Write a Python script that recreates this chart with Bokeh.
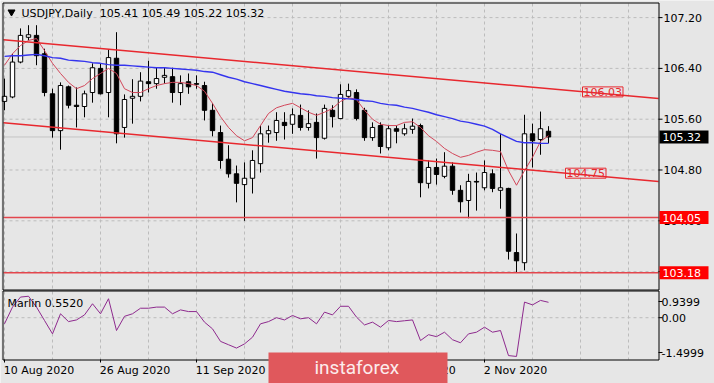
from bokeh.plotting import figure
from bokeh.models import Label, Range1d
from bokeh.embed import file_html
from bokeh.resources import INLINE
from bokeh.core.properties import value

# ---------------- data ----------------
symbol_title = "USDJPY,Daily"
tick_bars = [0, 12, 24, 36, 48, 60]
tick_dates = ["10 Aug 2020", "26 Aug 2020", "11 Sep 2020", "29 Sep 2020", "15 Oct 2020", "2 Nov 2020"]

opens = [105.88, 105.95, 106.50, 106.89, 106.92, 106.63, 106.00, 105.42, 106.11, 105.82,
         105.80, 106.02, 106.40, 106.02, 106.56, 105.47, 105.93, 105.96, 106.19, 106.16,
         106.26, 106.27, 106.02, 106.19, 106.16, 106.13, 105.74, 105.39, 104.97, 104.74,
         104.57, 104.67, 104.90, 105.37, 105.39, 105.55, 105.52, 105.66, 105.47, 105.55,
         105.30, 105.74, 105.61, 105.96, 106.02, 105.74, 105.31, 105.50, 105.15, 105.45,
         105.37, 105.44, 105.50, 104.59, 104.84, 104.70, 104.86, 104.48, 104.32, 104.62,
         104.52, 104.74, 104.48, 104.51, 103.50, 103.34, 105.37, 105.28, 105.41]
highs = [106.24, 106.63, 107.03, 107.08, 107.08, 106.71, 106.08, 106.18, 106.13, 106.10,
         106.05, 106.48, 106.48, 106.70, 106.97, 105.99, 106.23, 106.34, 106.52, 106.41,
         106.41, 106.41, 106.29, 106.32, 106.29, 106.19, 105.85, 105.50, 105.19, 104.87,
         104.92, 105.11, 105.50, 105.50, 105.71, 105.71, 105.77, 105.83, 105.74, 105.69,
         105.83, 105.82, 106.15, 106.16, 106.07, 105.78, 105.55, 105.55, 105.50, 105.50,
         105.53, 105.61, 105.53, 104.95, 104.98, 105.08, 104.92, 104.56, 104.74, 104.76,
         104.95, 104.81, 105.37, 104.52, 103.80, 105.67, 105.53, 105.72, 105.49]
lows = [105.74, 105.93, 106.48, 106.84, 106.45, 105.96, 105.31, 105.12, 105.77, 105.47,
        105.63, 105.86, 105.99, 105.63, 105.22, 105.31, 105.53, 105.88, 106.02, 106.08,
        106.16, 105.86, 105.82, 106.00, 106.08, 105.58, 105.33, 104.82, 104.68, 104.29,
        104.00, 104.43, 104.76, 105.23, 105.26, 105.28, 105.37, 105.42, 105.42, 104.98,
        105.28, 105.47, 105.60, 105.93, 105.58, 105.26, 105.26, 105.06, 105.11, 105.22,
        105.34, 105.37, 104.37, 104.51, 104.57, 104.67, 104.41, 104.13, 104.04, 104.16,
        104.48, 104.45, 104.19, 103.39, 103.18, 103.22, 104.84, 105.04, 105.22]
closes = [105.96, 106.50, 106.92, 106.93, 106.60, 106.02, 105.42, 106.13, 105.82, 105.80,
          106.00, 106.41, 106.00, 106.57, 105.37, 105.91, 105.96, 106.20, 106.16, 106.24,
          106.29, 106.02, 106.16, 106.11, 106.15, 105.74, 105.42, 104.95, 104.74, 104.59,
          104.67, 104.95, 105.37, 105.42, 105.58, 105.50, 105.67, 105.47, 105.53, 105.31,
          105.77, 105.64, 105.99, 106.05, 105.61, 105.31, 105.47, 105.17, 105.45, 105.41,
          105.45, 105.49, 104.60, 104.84, 104.73, 104.86, 104.48, 104.30, 104.62, 104.61,
          104.76, 104.51, 104.52, 103.52, 103.37, 105.37, 105.26, 105.45, 105.32]

ma_fast = [106.45, 106.63, 106.76, 106.84, 106.87, 106.68, 106.48, 106.32, 106.18, 106.08,
           106.13, 106.24, 106.32, 106.40, 106.32, 106.08, 106.02, 106.02, 106.08, 106.13,
           106.16, 106.18, 106.18, 106.16, 106.13, 106.04, 105.85, 105.64, 105.47, 105.34,
           105.26, 105.31, 105.50, 105.69, 105.78, 105.82, 105.85, 105.78, 105.71, 105.66,
           105.71, 105.77, 105.88, 105.94, 105.91, 105.74, 105.60, 105.52, 105.50, 105.50,
           105.55, 105.56, 105.47, 105.34, 105.25, 105.14, 105.06, 105.00, 105.03, 105.08,
           105.12, 105.11, 105.09, 104.79, 104.56, 104.79, 105.00, 105.25, 105.34]
ma_slow = [106.59, 106.60, 106.60, 106.61, 106.62, 106.60, 106.57, 106.56, 106.53, 106.52,
           106.51, 106.49, 106.48, 106.46, 106.45, 106.45, 106.44, 106.43, 106.42, 106.41,
           106.41, 106.40, 106.39, 106.38, 106.37, 106.35, 106.34, 106.30, 106.26, 106.23,
           106.19, 106.16, 106.13, 106.10, 106.07, 106.04, 106.02, 106.00, 105.99, 105.97,
           105.96, 105.94, 105.93, 105.92, 105.91, 105.89, 105.88, 105.85, 105.83, 105.82,
           105.79, 105.77, 105.74, 105.71, 105.67, 105.64, 105.61, 105.57, 105.55, 105.52,
           105.49, 105.44, 105.37, 105.31, 105.25, 105.23, 105.23, 105.22, 105.22]
marlin = [-0.22, 0.38, 0.74, 0.77, 0.38, -0.10, -0.58, 0.14, -0.14, -0.08,
          0.10, 0.50, 0.14, 0.68, -0.46, 0.05, 0.14, 0.34, 0.34, 0.38,
          0.38, 0.14, 0.28, 0.22, 0.22, -0.16, -0.40, -0.85, -0.97, -1.09,
          -0.94, -0.70, -0.22, -0.14, 0.00, -0.08, 0.08, -0.04, 0.00, -0.22,
          0.20, 0.10, 0.41, 0.41, 0.02, -0.26, -0.16, -0.34, -0.10, -0.14,
          -0.11, -0.08, -0.82, -0.61, -0.68, -0.52, -0.79, -0.90, -0.58, -0.52,
          -0.34, -0.52, -0.46, -1.36, -1.39, 0.56, 0.46, 0.62, 0.5520]
marlin_max = 0.9399
marlin_min = -1.4999

price_ticks = [103.20, 104.00, 104.80, 105.60, 106.40, 107.20]
level_lines = [104.05, 103.18]
channel_upper = [106.851, 105.926]   # at the left and right edge of the price panel
channel_lower = [105.544, 104.619]
channel_upper_label = 106.03
channel_lower_label = 104.75

# ---------------- layout (pixel geometry of the MT4 window) ----------------
W, H = 714, 383
PX0, PX1 = 3, 658            # left / right edge of both panels
MAIN_TOP, MAIN_BOT = 3, 289
SUB_TOP, SUB_BOT = 291, 359
PRICE_AT_TOP = 107.422        # price at MAIN_TOP
PX_PER_PRICE = 63.5
SUB_PX_PER_UNIT = (SUB_BOT - SUB_TOP) / (marlin_max - marlin_min)


def bx(px):      # pixel column -> bar index
    return (px - 4) / 8.0


def pr(py):      # pixel row -> price
    return PRICE_AT_TOP - (py - MAIN_TOP) / PX_PER_PRICE


def mv(py):      # pixel row -> marlin value
    return marlin_max - (py - SUB_TOP) / SUB_PX_PER_UNIT


FONT = "DejaVu Sans"
BG = "#e6e6e6"
GRID = "#bcbcbc"
RED = "#e8282e"
LVL = "#e3464d"

n = len(closes)
idx = list(range(n))
body_top = [max(o, c) for o, c in zip(opens, closes)]
body_bot = [min(o, c) for o, c in zip(opens, closes)]
body_fill = ["white" if c >= o else "black" for o, c in zip(opens, closes)]

p = figure(width=W, height=H, x_range=Range1d(bx(0), bx(W)), y_range=Range1d(pr(H), pr(0)),
           min_border=0, output_backend="svg", toolbar_location=None,
           x_axis_location=None, y_axis_location=None,
           background_fill_color=BG, border_fill_color=BG, outline_line_color=None)
p.grid.visible = False
p.extra_y_ranges = {"m": Range1d(mv(H), mv(0))}

xl, xr = bx(PX0), bx(PX1)
grid_bars = list(range(0, 79, 6))

# ---- price panel grid
p.segment(x0=grid_bars, y0=[pr(MAIN_TOP)] * len(grid_bars), x1=grid_bars,
          y1=[pr(MAIN_BOT)] * len(grid_bars), line_color=GRID, line_dash="3 3", line_width=1)
p.segment(x0=[xl] * len(price_ticks), y0=price_ticks, x1=[xr] * len(price_ticks), y1=price_ticks,
          line_color=GRID, line_dash="3 3", line_width=1)

# bid line
p.segment(x0=[xl], y0=[closes[-1]], x1=[xr], y1=[closes[-1]], line_color="#c4c4c4", line_width=1)

# candles
p.segment(x0=idx, y0=lows, x1=idx, y1=highs, line_color="black", line_width=1)
p.vbar(x=idx, width=0.55, top=body_top, bottom=body_bot, fill_color=body_fill,
       line_color="black", line_width=1)

# moving averages
p.line(idx, ma_fast, line_color="#d2475a", line_width=1)
p.line(idx, ma_slow, line_color="#3434ee", line_width=1.4)

# channel and horizontal levels
p.line([xl, xr], channel_upper, line_color=RED, line_width=1.5)
p.line([xl, xr], channel_lower, line_color=RED, line_width=1.5)
p.segment(x0=[xl] * 2, y0=level_lines, x1=[xr] * 2, y1=level_lines, line_color=LVL, line_width=1.5)

# panel border
p.quad(left=[bx(PX0 - 0.5)], right=[bx(PX1 + 0.5)], top=[pr(MAIN_TOP - 0.5)],
       bottom=[pr(MAIN_BOT + 0.5)], fill_color=None, line_color="black", line_width=1)

# price axis ticks and labels
p.segment(x0=[bx(PX1)] * len(price_ticks), y0=price_ticks, x1=[bx(PX1 + 4)] * len(price_ticks),
          y1=price_ticks, line_color="black", line_width=1)
p.text(x=[bx(663)] * len(price_ticks), y=price_ticks, text=[f"{t:.2f}" for t in price_ticks],
       text_font=value(FONT), text_font_size="11px", text_color="black",
       text_align="left", text_baseline="middle")

# labels on the channel lines
for px_left, yv in ((582, channel_upper_label), (565, channel_lower_label)):
    p.add_layout(Label(x=bx(px_left), y=yv, text=f"{yv:.2f}", text_font=FONT,
                       text_font_size="11px", text_color=RED, text_align="left",
                       text_baseline="middle", border_line_color=RED, border_line_width=1,
                       padding=dict(left=1, right=1, top=1, bottom=1)))

# price boxes at the right (drawn after the axis labels so that they cover them)
box_prices = [closes[-1], level_lines[0], level_lines[1]]
box_colors = ["black", "#ff0000", "#ff0000"]
half = 6.5 / PX_PER_PRICE
p.quad(left=[bx(659)] * 3, right=[bx(708)] * 3, top=[v + half for v in box_prices],
       bottom=[v - half for v in box_prices], fill_color=box_colors, line_color=None)
p.text(x=[bx(662)] * 3, y=box_prices, text=[f"{v:.2f}" for v in box_prices],
       text_font=value(FONT), text_font_size="11px", text_color="white",
       text_align="left", text_baseline="middle")

# title
p.scatter(x=[bx(11)], y=[pr(11.5)], marker="inverted_triangle", size=7,
          fill_color="black", line_color="black")
title_txt = symbol_title + "\u00a0\u00a0" + " ".join(
    f"{v:.2f}" for v in (opens[-1], highs[-1], lows[-1], closes[-1]))
p.text(x=[bx(21)], y=[pr(12.5)], text=[title_txt], text_font=value(FONT), text_font_size="11px",
       text_color="black", text_align="left", text_baseline="middle")

# ---- Marlin panel
p.segment(x0=grid_bars, y0=[marlin_max] * len(grid_bars), x1=grid_bars,
          y1=[marlin_min] * len(grid_bars), line_color=GRID, line_dash="3 3", line_width=1,
          y_range_name="m")
p.segment(x0=[xl], y0=[0], x1=[xr], y1=[0], line_color=GRID, line_dash="3 3", line_width=1,
          y_range_name="m")
p.line(idx, marlin, line_color="#8e2a8e", line_width=1, y_range_name="m")
p.quad(left=[bx(PX0 - 0.5)], right=[bx(PX1 + 0.5)], top=[mv(SUB_TOP - 0.5)],
       bottom=[mv(SUB_BOT + 0.5)], fill_color=None, line_color="black", line_width=1,
       y_range_name="m")
p.text(x=[bx(7)], y=[mv(303)], text=[f"Marlin {marlin[-1]:.4f}"], text_font=value(FONT),
       text_font_size="11px", text_color="black", text_align="left", text_baseline="middle",
       y_range_name="m")

# Marlin axis: max / zero / min, labels kept inside the panel as MT4 does
sub_ticks = [mv(301), 0.0, mv(352)]
sub_labels = [f"{marlin_max:.4f}", "0.00", f"{marlin_min:.4f}"]
p.segment(x0=[bx(PX1)] * 3, y0=sub_ticks, x1=[bx(PX1 + 4)] * 3, y1=sub_ticks,
          line_color="black", line_width=1, y_range_name="m")
p.text(x=[bx(661)] * 3, y=sub_ticks, text=sub_labels, text_font=value(FONT),
       text_font_size="11px", text_color="black", text_align="left", text_baseline="middle",
       y_range_name="m")

# time axis
p.segment(x0=tick_bars, y0=[marlin_min] * len(tick_bars), x1=tick_bars,
          y1=[mv(SUB_BOT + 3)] * len(tick_bars), line_color="black", line_width=1,
          y_range_name="m")
p.text(x=[b - 0.1 for b in tick_bars], y=[mv(370)] * len(tick_bars), text=tick_dates,
       text_font=value(FONT), text_font_size="11px", text_color="black", text_align="left",
       text_baseline="middle", y_range_name="m")

# watermark
p.quad(left=[bx(268)], right=[bx(447)], top=[mv(352)], bottom=[mv(H + 5)],
       fill_color="#e0585c", fill_alpha=1.0, line_color=None, y_range_name="m")
p.text(x=[bx(314)], y=[mv(367)], text=["instaforex"], text_font=value("Roboto"),
       text_font_size="19px", text_color="#fcecec", text_align="left", text_baseline="middle",
       y_range_name="m")

open("out.html", "w").write(file_html(p, INLINE))
